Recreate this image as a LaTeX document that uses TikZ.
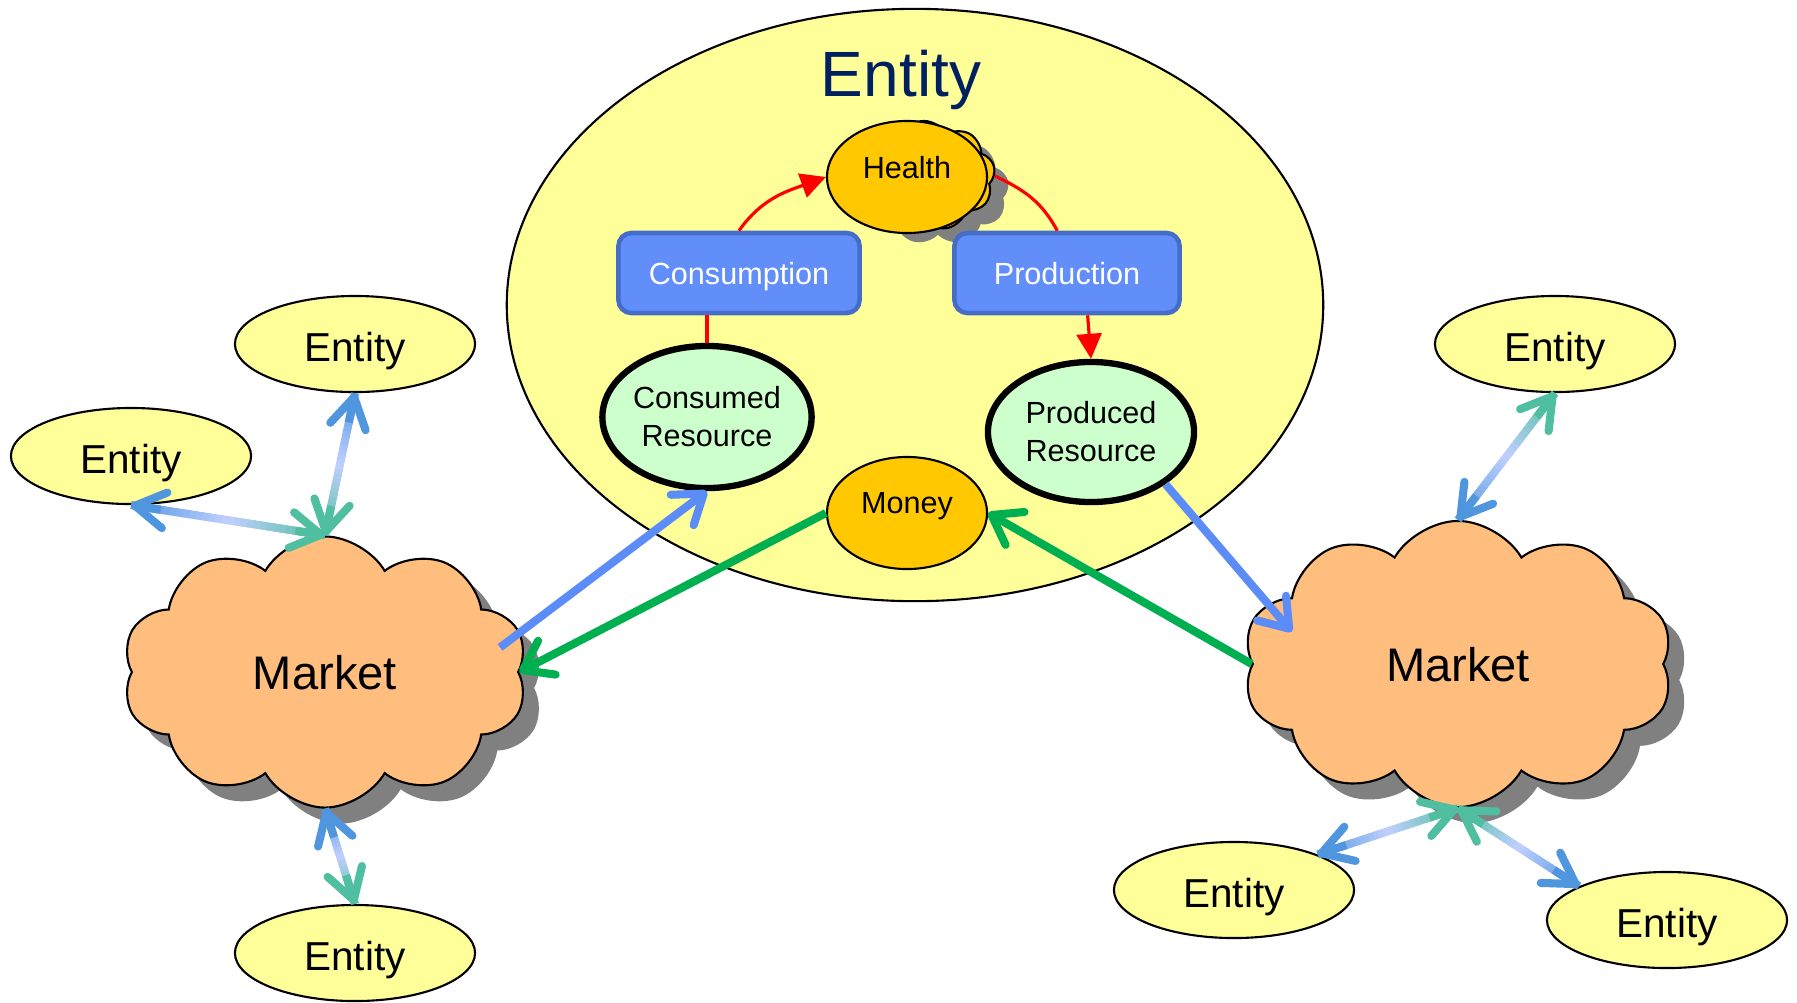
\documentclass[tikz,border=0pt]{standalone}
\usepackage{fontspec}
\setmainfont{Liberation Sans}
\usetikzlibrary{shapes.geometric,shapes.symbols,shadows,arrows.meta,calc}
\definecolor{entfill}{RGB}{255,255,153}
\definecolor{mkt}{RGB}{255,190,125}
\definecolor{goldc}{RGB}{255,200,0}
\definecolor{resfill}{RGB}{204,255,204}
\definecolor{boxfill}{RGB}{98,142,250}
\definecolor{boxdraw}{RGB}{68,108,200}
\definecolor{titlec}{RGB}{0,32,96}
\definecolor{flowblue}{RGB}{91,140,248}
\definecolor{flowgreen}{RGB}{0,176,80}
\definecolor{gblue}{RGB}{80,150,222}
\definecolor{glav}{RGB}{192,208,255}
\definecolor{gteal}{RGB}{80,190,160}
\definecolor{shadowc}{RGB}{128,128,128}
\newcommand{\gradarrow}[4]{%
  \foreach \gi in {0,...,29}{%
    \pgfmathsetmacro{\ga}{\gi/30}%
    \pgfmathsetmacro{\gb}{min(1,(\gi+1.3)/30)}%
    \pgfmathsetmacro{\gm}{(\gi+0.5)/30}%
    \pgfmathtruncatemacro{\gp}{\gm<0.5 ? 100*(1-2*\gm) : 100*(2*\gm-1)}%
    \pgfmathtruncatemacro{\gh}{\gm<0.5 ? 0 : 1}%
    \ifnum\gh=0 \colorlet{gcur}{#3!\gp!glav}\else\colorlet{gcur}{#4!\gp!glav}\fi
    \draw[line width=2.3pt, draw=gcur] ($#1!\ga!#2$) -- ($#1!\gb!#2$);
  }%
  \draw[gradtip, draw=#3] ($#1!0.3cm!#2$) -- #1;
  \draw[gradtip, draw=#4] ($#2!0.3cm!#1$) -- #2;
}
\begin{document}
\begin{tikzpicture}[x=0.01cm,y=0.01cm,
  bigent/.style={ellipse, draw, line width=0.6pt, fill=entfill, minimum width=8.16cm, minimum height=5.92cm, inner sep=0pt},
  smallent/.style={ellipse, draw, line width=0.6pt, fill=entfill, minimum width=2.4cm, minimum height=0.96cm, inner sep=0pt, text height=0.35cm, text depth=0pt, font=\fontsize{11.5}{13}\selectfont},
  market/.style={cloud, cloud puffs=10, cloud puff arc=120, cloud ignores aspect, draw, line width=0.6pt, fill=mkt, inner sep=0pt, text depth=0pt,
     drop shadow={shadow xshift=0.16cm, shadow yshift=-0.16cm, fill=shadowc, opacity=1}, font=\fontsize{13.4}{15}\selectfont},
  resnode/.style={ellipse, draw, line width=1.8pt, fill=resfill, inner sep=0pt, align=center, font=\fontsize{8.7}{10.8}\selectfont},
  goldnode/.style={ellipse, draw, line width=0.6pt, fill=goldc, inner sep=0pt, text depth=0.2cm, minimum width=1.6cm, minimum height=1.12cm, font=\fontsize{8.7}{10.8}\selectfont},
  boxnode/.style={rectangle, rounded corners=0.13cm, draw=boxdraw, line width=1.3pt, fill=boxfill, text=white, minimum height=0.8cm, inner sep=0pt, text depth=0pt, font=\fontsize{8.7}{10.8}\selectfont},
  redflow/.style={draw=red, line width=0.9pt},
  redtip/.style={-{Triangle[length=0.25cm,width=0.25cm]}},
  flow/.style={line width=2.3pt, -{Straight Barb[length=0.27cm,width=0.38cm,round]}},
  gradtip/.style={line width=2.3pt, -{Straight Barb[length=0.3cm,width=0.36cm,round]}}
]
\useasboundingbox (0,0) rectangle (1797,-1002);

% central entity
\node[bigent] (ent) at (915,-305) {};
\node[text=titlec, text depth=0pt, font=\fontsize{18.2}{20}\selectfont] (title) at (901,-73) {Entity};

% health
\node[cloud, cloud puffs=9, cloud puff arc=120, cloud ignores aspect, draw, line width=0.6pt, fill=goldc, minimum width=1.42cm, minimum height=1.1cm,
      drop shadow={shadow xshift=0.14cm, shadow yshift=-0.14cm, fill=shadowc, opacity=1}] (hcloud) at (924,-176) {};
\node[goldnode] (health) at (907,-177) {Health};

\node[boxnode, minimum width=2.41cm] (cons) at (739,-273) {Consumption};
\node[boxnode, minimum width=2.25cm] (prod) at (1067,-273) {Production};

\node[resnode, minimum width=2.05cm, minimum height=1.42cm] (cr) at (707,-417) {Consumed\\Resource};
\node[resnode, minimum width=2.06cm, minimum height=1.40cm] (pr) at (1091,-432) {Produced\\Resource};
\node[goldnode] (money) at (907,-513) {Money};

% red cycle
\draw[redflow, redtip] (cons.north) to[out=55,in=200] (health.west);
\draw[redflow] (hcloud.east) to[out=-25,in=118] (prod.103);
\draw[redflow, redtip] (prod.-64) -- (pr.north);
\draw[redflow] (cr.north) -- (cr.north |- cons.south);

% markets
\node[market, minimum width=4.05cm, minimum height=2.71cm] (mL) at (325,-672) {Market};
\node[market, minimum width=4.3cm, minimum height=2.86cm] (mR) at (1458,-664) {Market};

% outer entities
\node[smallent] (e1) at (355,-344) {Entity};
\node[smallent] (e2) at (131,-456) {Entity};
\node[smallent] (e3) at (355,-953) {Entity};
\node[smallent] (e4) at (1555,-344) {Entity};
\node[smallent] (e5) at (1234,-890) {Entity};
\node[smallent] (e6) at (1667,-920) {Entity};

% gradient double arrows
\gradarrow{(e1.south)}{(mL.90)}{gblue}{gteal}
\gradarrow{(e2.south)}{(mL.90)}{gblue}{gteal}
\gradarrow{(mL.270)}{(e3.north)}{gblue}{gteal}
\gradarrow{(mR.90)}{(e4.south)}{gblue}{gteal}
\gradarrow{(e5.23)}{(mR.270)}{gblue}{gteal}
\gradarrow{(e6.159)}{(mR.270)}{gblue}{gteal}

% flows
\draw[flow, draw=flowblue] ($(mL.center)!0.88!(mL.8)$) -- (cr.south);
\draw[flow, draw=flowgreen] (money.west) -- (mL.east);
\draw[flow, draw=flowgreen] (mR.west) -- (money.east);
\draw[flow, draw=flowblue] (pr.-35) -- ($(mR.center)!0.8!(mR.169)$);
\end{tikzpicture}
\end{document}
